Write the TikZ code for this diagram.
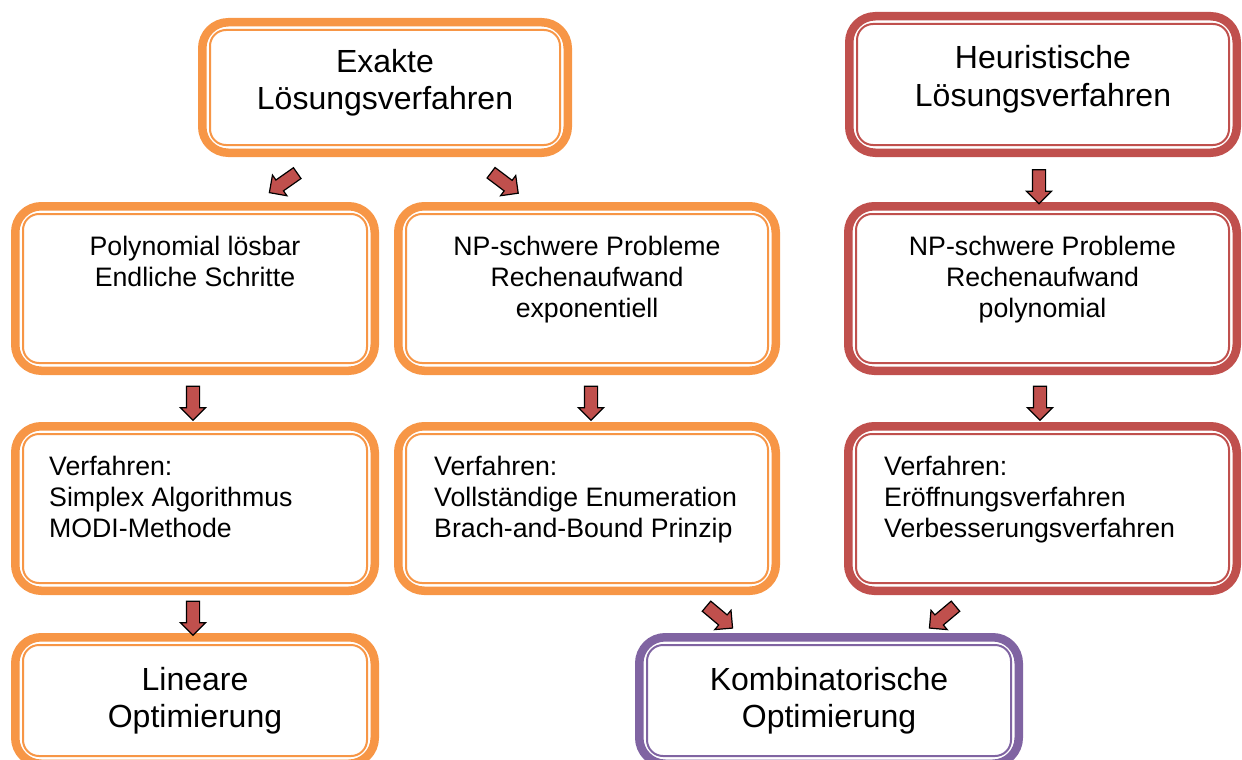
\documentclass[tikz,border=0pt]{standalone}
\usepackage{fontspec}
\setmainfont{Liberation Sans}
\usetikzlibrary{shapes.arrows,calc}
\definecolor{cOr}{HTML}{F79646}
\definecolor{cRd}{HTML}{C0504D}
\definecolor{cPu}{HTML}{8064A2}
\begin{document}
\begin{tikzpicture}[x=1pt,y=-1pt,
  box/.style={draw=#1, line width=8.5pt, rounded corners=26pt, fill=white,
    inner sep=0pt, outer sep=4.25pt},
  inl/.style={draw=#1, line width=2pt, rounded corners=16pt},
  tbig/.style={font=\fontsize{32}{37}\selectfont, align=center, inner sep=0pt, anchor=base},
  tmid/.style={font=\fontsize{26.7}{31}\selectfont, align=center, inner sep=0pt, anchor=base},
  tleft/.style={font=\fontsize{26.7}{31}\selectfont, align=left, inner sep=0pt, anchor=base west},
  barrow/.style={single arrow, draw=black, line width=1.2pt, fill=cRd,
    minimum height=34pt, inner sep=6pt, single arrow head extend=6pt,
    single arrow head indent=0pt, rotate=#1}
]
\useasboundingbox (0,0) rectangle (1242,760);
\clip (0,0) rectangle (1242,760);

% row 1
\node[box=cOr, minimum width=365.5pt, minimum height=130.5pt] (ex) at (385,87.5) {};
\draw[inl=cOr] ($(ex.north west)+(12,12)$) rectangle ($(ex.south east)-(12,12)$);
\node[tbig] (tex) at (385,110) {Exakte\\Lösungsverfahren};

\node[box=cRd, minimum width=387.5pt, minimum height=136.5pt] (he) at (1043,84.5) {};
\draw[inl=cRd] ($(he.north west)+(12,12)$) rectangle ($(he.south east)-(12,12)$);
\node[tbig] (the) at (1043,106) {Heuristische\\Lösungsverfahren};

% row 2
\node[box=cOr, minimum width=359.5pt, minimum height=164.5pt] (pl) at (195,288.5) {};
\draw[inl=cOr] ($(pl.north west)+(12,12)$) rectangle ($(pl.south east)-(12,12)$);
\node[tmid] (tpl) at (195,286) {Polynomial lösbar\\Endliche Schritte};

\node[box=cOr, minimum width=377.5pt, minimum height=164.5pt] (npa) at (587,288.5) {};
\draw[inl=cOr] ($(npa.north west)+(12,12)$) rectangle ($(npa.south east)-(12,12)$);
\node[tmid] (tnpa) at (587,317) {NP-schwere Probleme\\Rechenaufwand\\exponentiell};

\node[box=cRd, minimum width=388.5pt, minimum height=164.5pt] (npb) at (1042.5,288.5) {};
\draw[inl=cRd] ($(npb.north west)+(12,12)$) rectangle ($(npb.south east)-(12,12)$);
\node[tmid] (tnpb) at (1042.5,317) {NP-schwere Probleme\\Rechenaufwand\\polynomial};

% row 3
\node[box=cOr, minimum width=359.5pt, minimum height=164.5pt] (va) at (195,508.5) {};
\draw[inl=cOr] ($(va.north west)+(12,12)$) rectangle ($(va.south east)-(12,12)$);
\node[tleft] (tva) at (49,537) {Verfahren:\\Simplex Algorithmus\\MODI-Methode};

\node[box=cOr, minimum width=377.5pt, minimum height=164.5pt] (vb) at (587,508.5) {};
\draw[inl=cOr] ($(vb.north west)+(12,12)$) rectangle ($(vb.south east)-(12,12)$);
\node[tleft] (tvb) at (434,537) {Verfahren:\\Vollständige Enumeration\\Brach-and-Bound Prinzip};

\node[box=cRd, minimum width=388.5pt, minimum height=164.5pt] (vc) at (1042.5,508.5) {};
\draw[inl=cRd] ($(vc.north west)+(12,12)$) rectangle ($(vc.south east)-(12,12)$);
\node[tleft] (tvc) at (884,537) {Verfahren:\\Eröffnungsverfahren\\Verbesserungsverfahren};

% row 4
\node[box=cOr, minimum width=359.5pt, minimum height=126.5pt] (lo) at (195,700.5) {};
\draw[inl=cOr] ($(lo.north west)+(12,12)$) rectangle ($(lo.south east)-(12,12)$);
\node[tbig] (tlo) at (195,727) {Lineare\\Optimierung};

\node[box=cPu, minimum width=379.5pt, minimum height=126.5pt] (ko) at (829,700.5) {};
\draw[inl=cPu] ($(ko.north west)+(12,12)$) rectangle ($(ko.south east)-(12,12)$);
\node[tbig] (tko) at (829,727) {Kombinatorische\\Optimierung};

% arrows
\node[barrow=215] (a1) at (286,181) {};
\node[barrow=323] (a2) at (502,181) {};
\node[barrow=270] (a3) at (1039,183.5) {};
\node[barrow=270] (a4) at (193,400) {};
\node[barrow=270] (a5) at (591,400) {};
\node[barrow=270] (a6) at (1040,400) {};
\node[barrow=270] (a7) at (193,615) {};
\node[barrow=320] (a8) at (717,615) {};
\node[barrow=220] (a9) at (945,615) {};
\end{tikzpicture}
\end{document}
